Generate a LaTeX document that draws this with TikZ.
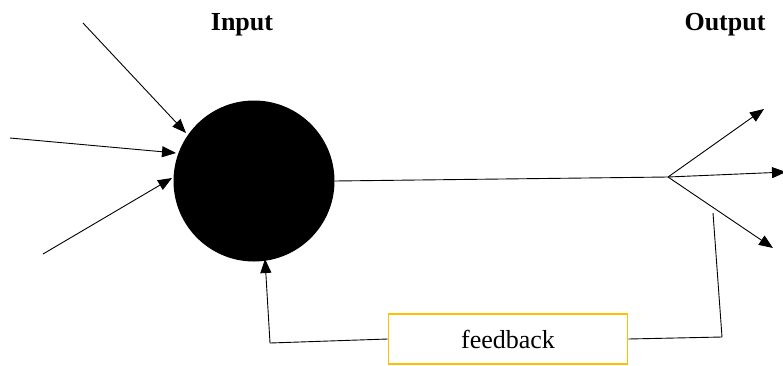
\documentclass[tikz,border=0pt]{standalone}
\usepackage{fontspec}
\setmainfont{Liberation Serif}
\usetikzlibrary{arrows.meta}
\definecolor{fbgold}{HTML}{FFC000}
\begin{document}
\begin{tikzpicture}[x=1pt,y=-1pt,
  conn/.style={line width=0.9pt,black},
  arr/.style={conn,-{Triangle[length=14pt,width=11pt]}},
  lbl/.style={font=\bfseries\fontsize{26}{30}\selectfont},
  fbbox/.style={draw=fbgold,line width=1.6pt,minimum width=239pt,minimum height=50pt,font=\fontsize{26}{30}\selectfont}]
\useasboundingbox (0,0) rectangle (783,365);
\node[circle,fill=black,minimum size=161pt,inner sep=0pt] (c) at (254,181) {};
\node[lbl] (in) at (242,25) {Input};
\node[lbl] (out) at (725,25) {Output};
\coordinate (i1) at (83,23);
\coordinate (i1e) at (186,133);
\coordinate (i2) at (10,138);
\coordinate (i2e) at (176,153);
\coordinate (i3) at (43,254);
\coordinate (i3e) at (172,178);
\draw[arr] (i1) -- (i1e);
\draw[arr] (i2) -- (i2e);
\draw[arr] (i3) -- (i3e);
\coordinate (sp) at (668,177);
\coordinate (o1) at (764,109);
\coordinate (o2) at (786,172);
\coordinate (o3) at (773,248);
\draw[conn] (c.east) -- (sp);
\draw[arr] (sp) -- (o1);
\draw[arr] (sp) -- (o2);
\draw[arr] (sp) -- (o3);
\node[fbbox] (fb) at (508,339) {feedback};
\coordinate (f1) at (713,213);
\coordinate (f2) at (722,337);
\coordinate (f3) at (270,343);
\coordinate (f4) at (265,259);
\draw[conn] (f1) -- (f2) -- (fb.east);
\draw[arr] (fb.west) -- (f3) -- (f4);
\end{tikzpicture}
\end{document}
